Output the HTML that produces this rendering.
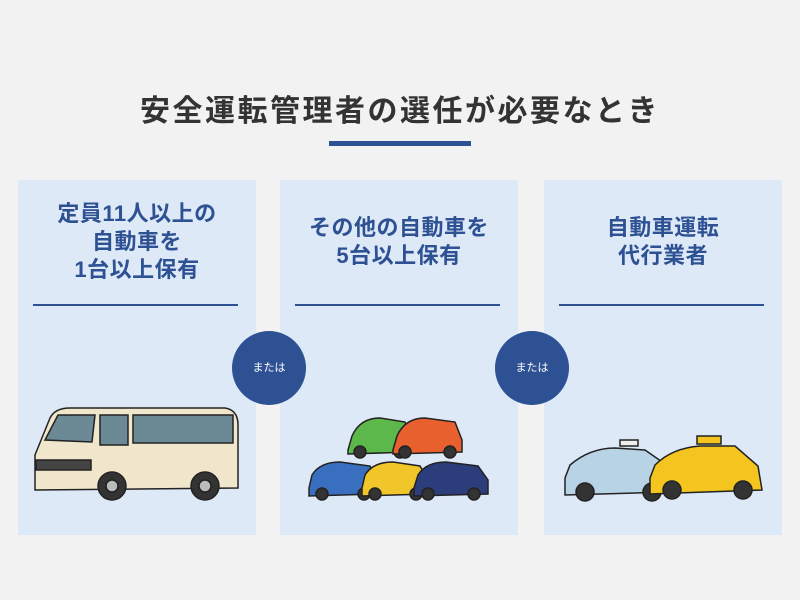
<!DOCTYPE html>
<html><head><meta charset="utf-8"><style>
body{margin:0;width:800px;height:600px;background:#f2f2f2;position:relative;overflow:hidden;font-family:"Liberation Sans","Noto Sans CJK JP",sans-serif}
.t{position:absolute;left:0;width:800px;top:86px;text-align:center;font-size:30px;font-weight:bold;color:#333;letter-spacing:2.5px}
.bar{position:absolute;left:329px;top:141px;width:142px;height:5px;background:#2d5193}
.p{position:absolute;top:180px;width:238px;height:355px;background:#dde9f6}
.p .h{position:absolute;left:0;width:100%;text-align:center;font-size:22px;font-weight:bold;color:#2d5193;line-height:28px;letter-spacing:0.5px}
.p .l{position:absolute;left:15px;width:205px;top:124px;height:2px;background:#2d5193}
.c{position:absolute;width:74px;height:74px;border-radius:50%;background:#2d5193;color:#fff;font-size:11px;text-align:center;line-height:74px}
svg{position:absolute;left:0;top:0}
</style></head><body>
<div class="t">安全運転管理者の選任が必要なとき</div>
<div class="bar"></div>
<div class="p" style="left:18px"><div class="h" style="top:20px">定員11人以上の<br>自動車を<br>1台以上保有</div><div class="l"></div></div>
<div class="p" style="left:280px"><div class="h" style="top:34px">その他の自動車を<br>5台以上保有</div><div class="l"></div></div>
<div class="p" style="left:544px"><div class="h" style="top:34px">自動車運転<br>代行業者</div><div class="l"></div></div>
<div class="c" style="left:232px;top:331px">または</div>
<div class="c" style="left:495px;top:331px">または</div>
<svg width="800" height="600" stroke="#222" stroke-width="1.5">
<path d="M35 455 L50 418 Q55 408 70 408 L225 408 Q238 410 238 425 L238 488 L35 490 Z" fill="#efe6cc"/>
<path d="M45 440 L58 415 L95 415 L92 442 Z" fill="#6b8a95"/>
<rect x="100" y="415" width="28" height="30" fill="#6b8a95"/>
<rect x="133" y="415" width="100" height="28" fill="#6b8a95"/>
<rect x="36" y="460" width="55" height="10" fill="#444"/>
<circle cx="112" cy="486" r="14" fill="#333"/><circle cx="112" cy="486" r="6" fill="#bbb"/>
<circle cx="205" cy="486" r="14" fill="#333"/><circle cx="205" cy="486" r="6" fill="#bbb"/>
<g><path d="M348 450 L352 436 Q360 418 380 418 L405 422 L412 440 L412 452 L348 454Z" fill="#5cb84a"/><circle cx="360" cy="452" r="6" fill="#333"/><circle cx="400" cy="452" r="6" fill="#333"/></g>
<g><path d="M393 450 L397 436 Q405 418 425 418 L455 422 L462 440 L462 452 L393 454Z" fill="#e8602d"/><circle cx="405" cy="452" r="6" fill="#333"/><circle cx="450" cy="452" r="6" fill="#333"/></g>
<g><path d="M309 488 L312 475 Q320 462 340 462 L370 466 L376 480 L376 494 L309 496Z" fill="#3a6fc0"/><circle cx="322" cy="494" r="6" fill="#333"/><circle cx="364" cy="494" r="6" fill="#333"/></g>
<g><path d="M362 488 L365 475 Q373 462 393 462 L420 466 L428 480 L428 494 L362 496Z" fill="#f1c62a"/><circle cx="375" cy="494" r="6" fill="#333"/><circle cx="416" cy="494" r="6" fill="#333"/></g>
<g><path d="M414 488 L418 475 Q426 462 446 462 L478 466 L488 480 L488 494 L414 496Z" fill="#2b3d7a"/><circle cx="428" cy="494" r="6" fill="#333"/><circle cx="474" cy="494" r="6" fill="#333"/></g>
<g><path d="M565 478 L570 465 Q590 448 615 448 L645 450 L668 466 L670 492 L565 495Z" fill="#b9d3e6"/><rect x="620" y="440" width="18" height="6" fill="#eee"/><circle cx="585" cy="492" r="9" fill="#333"/><circle cx="652" cy="492" r="9" fill="#333"/></g>
<g><path d="M650 478 L655 465 Q672 448 700 446 L735 446 L758 466 L762 490 L650 494Z" fill="#f3c51e"/><rect x="697" y="436" width="24" height="8" fill="#f3c51e"/><circle cx="672" cy="490" r="9" fill="#333"/><circle cx="743" cy="490" r="9" fill="#333"/></g>
</svg>
</body></html>
